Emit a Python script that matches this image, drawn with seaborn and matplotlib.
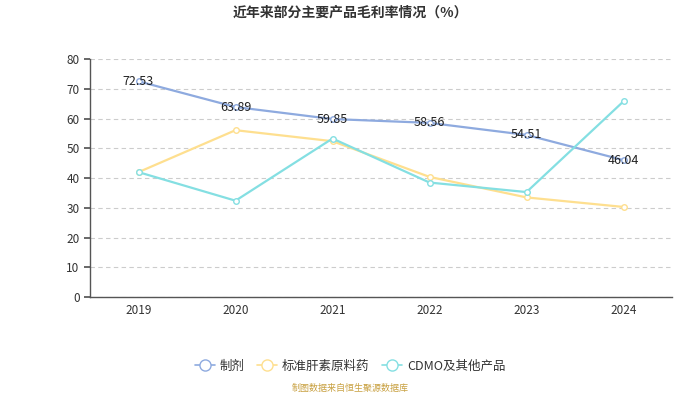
import matplotlib
matplotlib.use("Agg")
import matplotlib.pyplot as plt
from matplotlib.lines import Line2D
import seaborn as sns
import pandas as pd
import numpy as np

# ── data ──────────────────────────────────────────────────────────────
years = ["2019", "2020", "2021", "2022", "2023", "2024"]
zhiji = [72.53, 63.89, 59.85, 58.56, 54.51, 46.04]
gansu = [42.0, 56.1, 52.4, 40.4, 33.5, 30.3]
cdmo = [42.0, 32.4, 53.3, 38.5, 35.3, 65.8]
series_names = ["制剂", "标准肝素原料药", "CDMO及其他产品"]

BLUE = "#8eaadf"
YELLOW = "#fedf8f"
CYAN = "#84dfe2"
colours = [BLUE, YELLOW, CYAN]
AXIS = "#555555"

sns.set_theme(style="white")
plt.rcParams["font.family"] = ["Noto Sans CJK SC", "DejaVu Sans"]

df = pd.DataFrame({"year": years * 3,
                   "value": zhiji + gansu + cdmo,
                   "series": sum([[n] * len(years) for n in series_names], [])})
df["x"] = df["year"].map({y: i for i, y in enumerate(years)})

fig = plt.figure(figsize=(7, 3.94), dpi=100)
ax = fig.add_axes([0.1286, 0.246, 0.8314, 0.604])

sns.lineplot(data=df, x="x", y="value", hue="series", palette=colours,
             hue_order=series_names, ax=ax, linewidth=1.6, marker="o",
             markersize=4, markerfacecolor="white", markeredgewidth=1,
             legend=False, zorder=3)
# recolour marker edges to each series colour
for line, c in zip(ax.get_lines(), colours):
    line.set_markeredgecolor(c)

for i, v in enumerate(zhiji):
    ax.text(i, v, f"{v:.2f}", ha="center", va="center", fontsize=9,
            color="#222222", zorder=5)

ax.set_xlim(-0.5, len(years) - 0.5)
ax.set_ylim(0, 80)
ax.set_yticks(range(0, 81, 10))
ax.set_xticks(np.arange(-0.5, len(years), 1), minor=False)
ax.set_xticklabels([])
ax.set_xticks(range(len(years)), minor=True)
ax.set_xticklabels(years, minor=True)
ax.tick_params(axis="x", which="major", length=4, color=AXIS, direction="out")
ax.tick_params(axis="x", which="minor", length=0, labelsize=8.5,
               labelcolor="#333333", pad=5)
ax.tick_params(axis="y", length=4, color=AXIS, labelsize=8.5,
               labelcolor="#333333", left=True)
ax.set_xlabel("")
ax.set_ylabel("")
ax.grid(axis="y", color="#cccccc", linestyle=(0, (4, 3)), linewidth=0.8)
ax.set_axisbelow(True)
for s in ["top", "right"]:
    ax.spines[s].set_visible(False)
for s in ["left", "bottom"]:
    ax.spines[s].set_color(AXIS)
    ax.spines[s].set_linewidth(1)

fig.text(0.5, 0.968, "近年来部分主要产品毛利率情况（%）", ha="center", va="center",
         fontsize=10, fontweight="bold", color="#333333")

handles = [Line2D([0], [0], color=c, linewidth=1.2, marker="o", markersize=8,
                  markerfacecolor="white", markeredgecolor=c)
           for c in colours]
fig.legend(handles, series_names, loc="center", bbox_to_anchor=(0.5, 0.071),
           ncol=3, frameon=False, fontsize=9, handlelength=1.6,
           columnspacing=1.0, handletextpad=0.4, labelcolor="#333333")

fig.text(0.5, 0.015, "制图数据来自恒生聚源数据库", ha="center", va="center",
         fontsize=6.5, color="#c8a040")

fig.savefig("out.png", dpi=100)
